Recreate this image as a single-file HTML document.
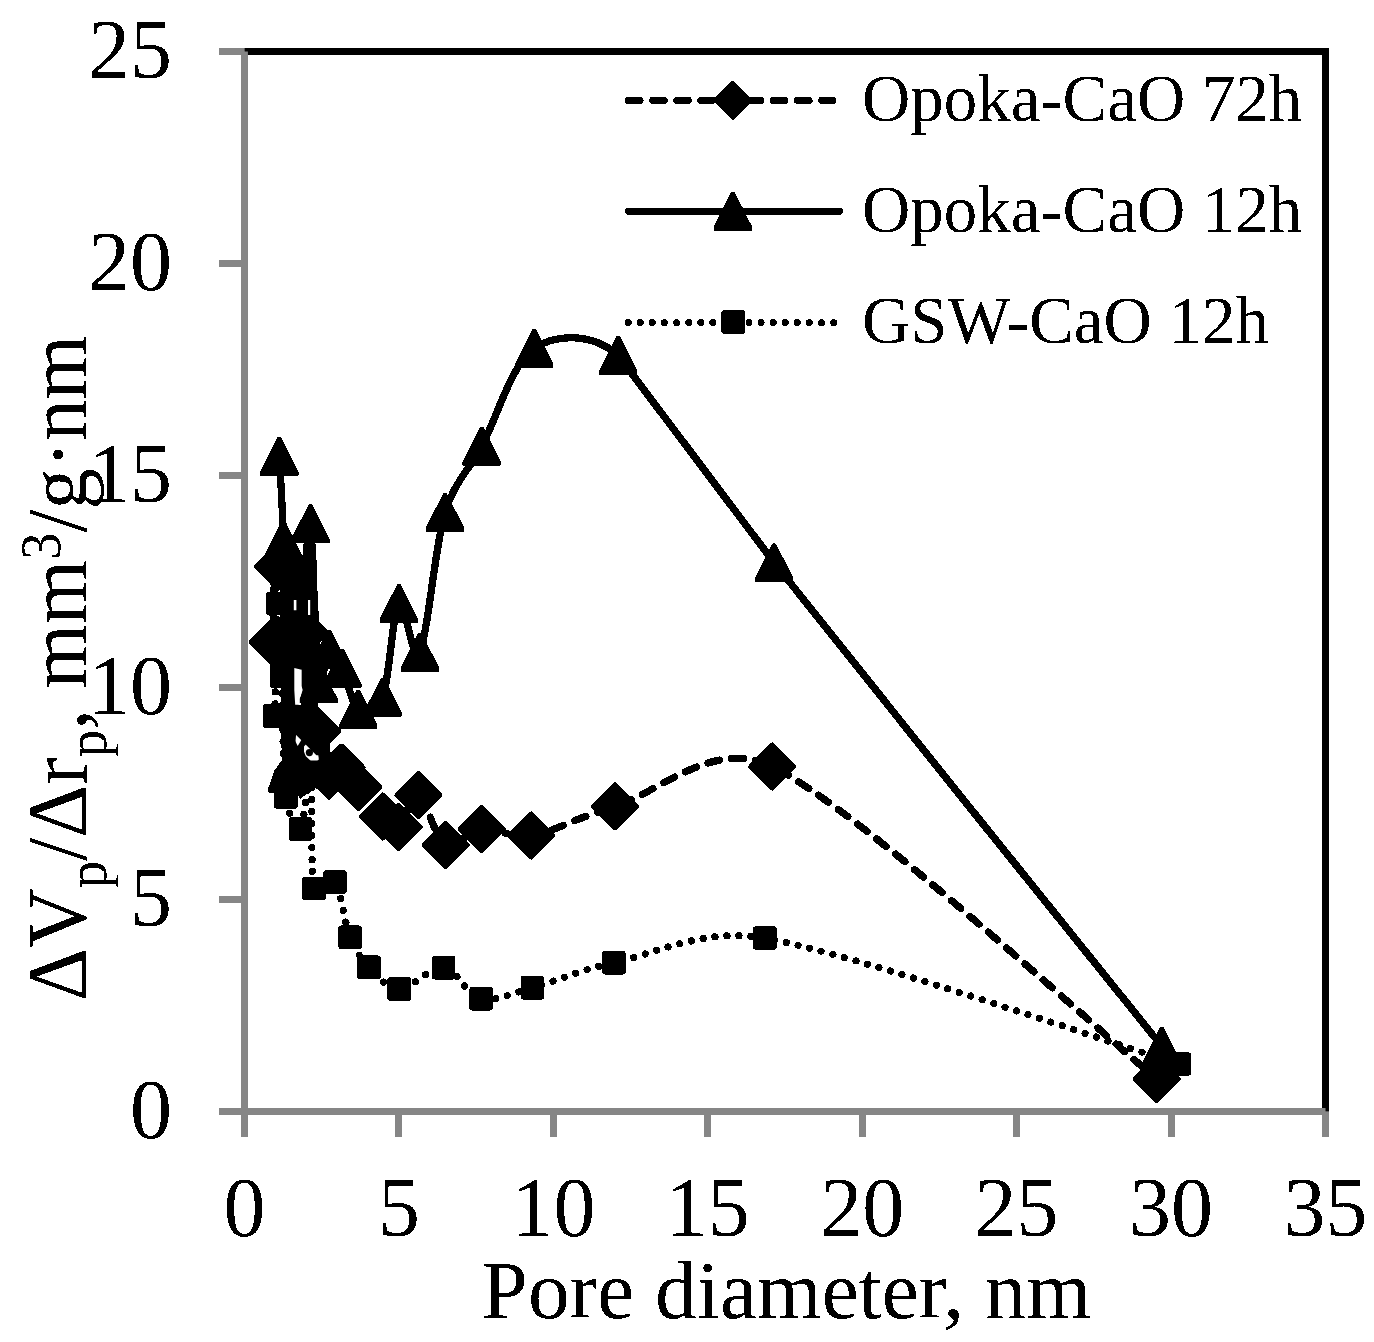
<!DOCTYPE html>
<html><head><meta charset="utf-8"><style>
html,body{margin:0;padding:0;background:#fff;width:1374px;height:1342px;overflow:hidden}
svg{position:absolute;left:0;top:0;display:block}
text{font-family:"Liberation Serif",serif;fill:#000}
</style></head><body>
<svg width="1374" height="1342" viewBox="0 0 1374 1342">
<defs><filter id="bin" x="0" y="0" width="1374" height="1342" filterUnits="userSpaceOnUse" color-interpolation-filters="sRGB"><feComponentTransfer><feFuncA type="discrete" tableValues="0 1"/></feComponentTransfer></filter></defs>
<rect width="1374" height="1342" fill="#fff"/>
<g filter="url(#bin)">
<path d="M244.5 51.5H1325.5V1111.5" fill="none" stroke="#000" stroke-width="6.8"/>
<path d="M244.5 51.5V1137M219 1111.5H1325.5M219 1111.5H244.5M219 899.5H244.5M219 687.5H244.5M219 475.5H244.5M219 263.5H244.5M219 51.5H244.5M244.5 1111.5V1137M398.9 1111.5V1137M553.4 1111.5V1137M707.8 1111.5V1137M862.2 1111.5V1137M1016.6 1111.5V1137M1171.1 1111.5V1137M1325.5 1111.5V1137" fill="none" stroke="#868686" stroke-width="6.8"/>
<g font-size="84">
<text x="172.0" y="1137.9" text-anchor="end">0</text>
<text x="172.0" y="925.9" text-anchor="end">5</text>
<text x="172.0" y="713.9" text-anchor="end">10</text>
<text x="172.0" y="501.9" text-anchor="end">15</text>
<text x="172.0" y="289.9" text-anchor="end">20</text>
<text x="172.0" y="77.9" text-anchor="end">25</text>
<text x="244.5" y="1236.0" text-anchor="middle">0</text>
<text x="398.9" y="1236.0" text-anchor="middle">5</text>
<text x="553.4" y="1236.0" text-anchor="middle">10</text>
<text x="707.8" y="1236.0" text-anchor="middle">15</text>
<text x="862.2" y="1236.0" text-anchor="middle">20</text>
<text x="1016.6" y="1236.0" text-anchor="middle">25</text>
<text x="1171.1" y="1236.0" text-anchor="middle">30</text>
<text x="1325.5" y="1236.0" text-anchor="middle">35</text>
</g>
<text x="786.4" y="1318" font-size="83.3" text-anchor="middle">Pore diameter, nm</text>
<text transform="translate(86.2 1001) rotate(-90) scale(0.983 1)" font-size="84">ΔV<tspan font-size="56" dy="20">p</tspan><tspan dy="-20">/Δr</tspan><tspan font-size="56" dy="20">p</tspan><tspan dy="-20">, mm</tspan><tspan font-size="56" dy="-26">3</tspan><tspan dy="26">/g·nm</tspan></text>
<g font-size="66.9">
<text x="862" y="121">Opoka-CaO 72h</text>
<text x="862" y="232">Opoka-CaO 12h</text>
<text x="862" y="343">GSW-CaO 12h</text>
</g>
<path d="M628.3 100.4H833.1" fill="none" stroke="#000" stroke-width="6.8" stroke-dasharray="11.9 12.25" stroke-linecap="round"/>
<path d="M732.8 82.9L750.3 100.4L732.8 117.9L715.3 100.4Z" fill="#000" stroke="#000" stroke-width="4" stroke-linejoin="round"/>
<path d="M628.3 211.2H839.5" fill="none" stroke="#000" stroke-width="6.8" stroke-linecap="round"/>
<path d="M731.1 191.9L734.5 191.9L752.0 226.5L752.0 230.5L713.6 230.5L713.6 226.5Z" fill="#000"/>
<path d="M628.2 322.4H833.6" fill="none" stroke="#000" stroke-width="7" stroke-dasharray="0.01 12.07" stroke-linecap="round"/>
<path d="M723.7 312.4h19.0v19.0h-19.0Z" fill="#000" stroke="#000" stroke-width="4.5" stroke-linejoin="round"/>
<path d="M303.5 544.0L315.5 544.0L316.5 560.0L317.5 614.0L318.5 620.0L288.0 620.0L286.0 570.0L302.6 556.0ZM285.0 618.0L318.0 618.0L318.0 668.0L285.0 668.0ZM284.0 665.0L294.5 665.0L294.5 706.0L284.0 706.0ZM272.0 655.0L285.0 655.0L285.0 666.0L272.0 666.0ZM303.0 649.0L341.0 649.0L333.0 668.0L303.0 668.0ZM301.5 666.0L318.0 666.0L318.0 705.0L301.5 705.0ZM282.0 705.0L318.0 705.0L318.0 731.0L330.0 745.0L330.0 786.0L314.0 788.4L300.0 799.0L297.0 793.0L270.0 793.0L268.0 789.0L274.0 771.0L282.0 760.0L281.0 728.0Z" fill="#000"/><path d="M304.0 746.4L306.2 744.1L318.7 755.3L318.7 759.8L313.8 763.8L305.8 756.2L304.0 751.7ZM292.0 734.5L295.5 733.4L301.8 739.2L297.7 745.9Z" fill="#fff"/><circle cx="309.4" cy="752.6" r="3.6" fill="#000"/>
<path d="M272.6 642.1 C273.5 629.6 272.5 568.3 277.9 566.7 C283.3 565.0 298.4 605.0 305.0 632.4 C311.6 659.8 313.4 707.3 317.4 731.2 C320.4 749.3 324.8 769.6 328.8 775.7 C332.1 780.7 336.6 765.7 341.5 767.6 C346.4 769.5 351.5 779.3 358.2 787.1 C365.0 795.3 375.8 809.8 382.6 816.4 C388.0 821.8 392.6 830.5 398.6 827.0 C404.6 823.5 410.6 792.2 418.4 795.2 C426.2 798.2 435.0 839.2 445.6 844.8 C456.1 850.5 467.4 830.7 481.7 829.1 C496.0 827.6 511.7 838.9 531.4 835.5 C553.7 831.7 581.0 816.0 615.1 806.2 C655.3 794.7 714.4 737.2 772.3 766.4 C862.6 811.8 1092.8 1026.8 1156.9 1078.9" fill="none" stroke="#000" stroke-width="7.3" stroke-dasharray="12 12.2" stroke-linecap="round" stroke-linejoin="round"/>
<path d="M272.6 620.6L294.1 642.1L272.6 663.6L251.1 642.1ZM277.9 545.2L299.4 566.7L277.9 588.2L256.4 566.7ZM305.0 610.9L326.5 632.4L305.0 653.9L283.5 632.4ZM317.4 709.7L338.9 731.2L317.4 752.7L295.9 731.2ZM328.8 754.2L350.3 775.7L328.8 797.2L307.3 775.7ZM341.5 746.1L363.0 767.6L341.5 789.1L320.0 767.6ZM358.2 765.6L379.7 787.1L358.2 808.6L336.7 787.1ZM382.6 794.9L404.1 816.4L382.6 837.9L361.1 816.4ZM398.6 805.5L420.1 827.0L398.6 848.5L377.1 827.0ZM418.4 773.7L439.9 795.2L418.4 816.7L396.9 795.2ZM445.6 823.3L467.1 844.8L445.6 866.3L424.1 844.8ZM481.7 807.6L503.2 829.1L481.7 850.6L460.2 829.1ZM531.4 814.0L552.9 835.5L531.4 857.0L509.9 835.5ZM615.1 784.7L636.6 806.2L615.1 827.7L593.6 806.2ZM772.3 744.9L793.8 766.4L772.3 787.9L750.8 766.4ZM1156.9 1057.4L1178.4 1078.9L1156.9 1100.4L1135.4 1078.9Z" fill="#000" stroke="#000" stroke-width="5" stroke-linejoin="round"/>
<path d="M279.4 456.4 C280.1 470.4 282.5 506.8 283.4 540.4 C284.8 593.2 283.3 775.9 287.7 773.1 C292.2 770.4 305.1 538.7 310.3 523.8 L318.6 683.7 C320.8 697.9 325.5 651.9 329.4 649.3 C333.4 646.8 338.4 660.1 342.4 668.4 C347.2 678.4 351.5 704.3 358.2 709.1 C364.9 713.9 378.7 707.4 382.6 697.3 C389.4 679.7 392.7 611.0 398.9 603.5 C405.2 596.1 412.3 667.5 419.9 652.3 C427.6 637.1 434.7 546.7 445.0 512.4 C453.6 483.4 467.2 472.8 481.7 446.2 C496.6 418.9 511.5 363.4 534.2 348.3 C557.0 333.2 593.1 333.0 618.2 355.5 L774.2 562.8 C864.8 678.0 1097.2 965.6 1161.8 1046.2" fill="none" stroke="#000" stroke-width="7.3" stroke-linecap="round" stroke-linejoin="round"/>
<path d="M277.7 437.1L281.1 437.1L298.6 471.7L298.6 475.7L260.2 475.7L260.2 471.7ZM281.7 521.1L285.1 521.1L302.6 555.7L302.6 559.7L264.2 559.7L264.2 555.7ZM286.0 753.8L289.4 753.8L306.9 788.4L306.9 792.4L268.5 792.4L268.5 788.4ZM308.6 504.5L312.0 504.5L329.5 539.1L329.5 543.1L291.1 543.1L291.1 539.1ZM316.9 664.4L320.3 664.4L337.8 699.0L337.8 703.0L299.4 703.0L299.4 699.0ZM327.7 630.0L331.1 630.0L348.6 664.6L348.6 668.6L310.2 668.6L310.2 664.6ZM340.7 649.1L344.1 649.1L361.6 683.7L361.6 687.7L323.2 687.7L323.2 683.7ZM356.5 689.8L359.9 689.8L377.4 724.4L377.4 728.4L339.0 728.4L339.0 724.4ZM380.9 678.0L384.3 678.0L401.8 712.6L401.8 716.6L363.4 716.6L363.4 712.6ZM397.2 584.2L400.6 584.2L418.1 618.8L418.1 622.8L379.7 622.8L379.7 618.8ZM418.2 633.0L421.6 633.0L439.1 667.6L439.1 671.6L400.7 671.6L400.7 667.6ZM443.3 493.1L446.7 493.1L464.2 527.7L464.2 531.7L425.8 531.7L425.8 527.7ZM480.0 426.9L483.4 426.9L500.9 461.5L500.9 465.5L462.5 465.5L462.5 461.5ZM532.5 329.0L535.9 329.0L553.4 363.6L553.4 367.6L515.0 367.6L515.0 363.6ZM616.5 336.2L619.9 336.2L637.4 370.8L637.4 374.8L599.0 374.8L599.0 370.8ZM772.5 543.5L775.9 543.5L793.4 578.1L793.4 582.1L755.0 582.1L755.0 578.1ZM1160.1 1026.9L1163.5 1026.9L1181.0 1061.5L1181.0 1065.5L1142.6 1065.5L1142.6 1061.5Z" fill="#000"/>
<path d="M274.8 715.9 C275.3 697.2 276.7 610.2 277.9 603.5 C279.0 596.9 280.4 647.0 281.6 676.1 C282.9 708.3 282.7 771.4 285.9 796.9 C287.6 810.9 296.2 833.2 300.4 829.1 C304.6 825.0 308.6 762.4 310.9 772.3 C313.2 782.2 310.0 870.2 314.0 888.5 C315.9 897.0 329.8 875.1 335.0 882.1 C341.0 890.2 344.5 923.0 350.1 937.2 C355.4 950.4 360.8 958.7 369.0 967.3 C377.2 976.0 386.8 988.9 399.2 989.0 C411.7 989.0 430.1 966.1 443.7 967.8 C457.4 969.4 466.3 995.4 481.1 998.7 C495.9 1002.0 512.1 993.2 532.4 987.7 C554.5 981.7 580.5 969.8 613.9 962.7 C652.7 954.4 704.7 927.3 764.9 938.1 C859.1 955.0 1110.1 1043.0 1179.1 1064.0" fill="none" stroke="#000" stroke-width="7.3" stroke-dasharray="0.01 11.99" stroke-linecap="round" stroke-linejoin="round"/>
<path d="M265.3 706.4h19.0v19.0h-19.0ZM268.4 594.0h19.0v19.0h-19.0ZM272.1 666.6h19.0v19.0h-19.0ZM276.4 787.4h19.0v19.0h-19.0ZM290.9 819.6h19.0v19.0h-19.0ZM301.4 762.8h19.0v19.0h-19.0ZM304.5 879.0h19.0v19.0h-19.0ZM325.5 872.6h19.0v19.0h-19.0ZM340.6 927.7h19.0v19.0h-19.0ZM359.5 957.8h19.0v19.0h-19.0ZM389.7 979.5h19.0v19.0h-19.0ZM434.2 958.3h19.0v19.0h-19.0ZM471.6 989.2h19.0v19.0h-19.0ZM522.9 978.2h19.0v19.0h-19.0ZM604.4 953.2h19.0v19.0h-19.0ZM755.4 928.6h19.0v19.0h-19.0ZM1169.6 1054.5h19.0v19.0h-19.0Z" fill="#000" stroke="#000" stroke-width="4.5" stroke-linejoin="round"/>
<path d="M294.3 668.0L301.5 669.8L301.5 686.0L302.7 690.0L299.7 698.6L299.7 704.7L295.2 704.7L294.3 690.0ZM293.8 600.0L296.4 600.0L296.4 610.2L293.8 610.2ZM308.0 600.0L310.2 600.0L310.2 615.0L308.0 615.0Z" fill="#fff"/>
</g>
</svg>
</body></html>
